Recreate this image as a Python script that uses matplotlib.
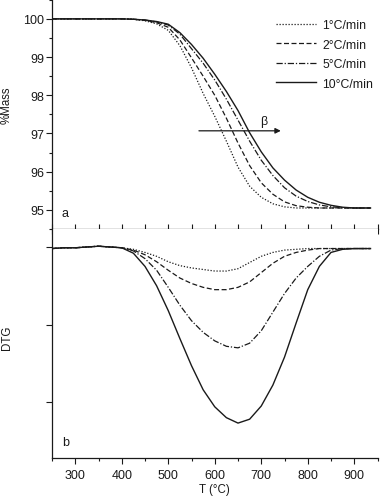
import matplotlib
matplotlib.use("Agg")
import matplotlib.pyplot as plt
from matplotlib.ticker import MultipleLocator, FixedLocator, NullFormatter

plt.rcParams['font.family'] = ['Liberation Sans', 'DejaVu Sans']

# ---- data ----
T = [250, 275, 300, 325, 350, 375, 400, 425, 450, 475, 500, 525, 550, 575,
     600, 625, 650, 675, 700, 725, 750, 775, 800, 825, 850, 875, 900, 925, 935]

mass_1 = [100, 100, 100, 100, 100, 100, 100, 99.99, 99.95, 99.87, 99.7, 99.3,
          98.72, 98.05, 97.45, 96.8, 96.12, 95.62, 95.33, 95.16, 95.08, 95.05,
          95.05, 95.05, 95.05, 95.05, 95.05, 95.05, 95.05]
mass_2 = [100, 100, 100, 100, 100, 100, 100, 99.99, 99.96, 99.9, 99.78, 99.45,
          98.98, 98.5, 98.0, 97.4, 96.75, 96.16, 95.71, 95.41, 95.21, 95.11,
          95.07, 95.05, 95.05, 95.05, 95.05, 95.05, 95.05]
mass_5 = [100, 100, 100, 100, 100, 100, 100, 99.99, 99.97, 99.92, 99.84, 99.6,
          99.22, 98.84, 98.4, 97.9, 97.35, 96.8, 96.3, 95.9, 95.58, 95.36,
          95.22, 95.13, 95.08, 95.06, 95.05, 95.05, 95.05]
mass_10 = [100, 100, 100, 100, 100, 100, 100, 99.99, 99.97, 99.93, 99.86, 99.64,
           99.33, 98.97, 98.55, 98.1, 97.6, 97.02, 96.52, 96.1, 95.78, 95.52,
           95.33, 95.2, 95.12, 95.07, 95.05, 95.05, 95.05]

dtg_1 = [-0.02, -0.01, -0.01, 0.0, 0.01, 0.0, -0.01, -0.03, -0.07, -0.12, -0.19, -0.24,
         -0.27, -0.29, -0.31, -0.31, -0.28, -0.2, -0.12, -0.07, -0.04, -0.03,
         -0.02, -0.02, -0.02, -0.02, -0.02, -0.02, -0.02]
dtg_2 = [-0.02, -0.01, -0.01, 0.0, 0.01, 0.0, -0.01, -0.04, -0.1, -0.19, -0.3, -0.4,
         -0.47, -0.52, -0.55, -0.55, -0.52, -0.45, -0.33, -0.21, -0.12, -0.07,
         -0.04, -0.02, -0.02, -0.02, -0.02, -0.02, -0.02]
dtg_5 = [-0.02, -0.01, -0.01, 0.0, 0.01, 0.0, -0.01, -0.05, -0.15, -0.3, -0.52, -0.75,
         -0.95, -1.1, -1.21, -1.28, -1.3, -1.24, -1.08, -0.84, -0.6, -0.4,
         -0.25, -0.12, -0.04, -0.02, -0.02, -0.02, -0.02]
dtg_10 = [-0.02, -0.01, -0.01, 0.0, 0.01, 0.0, -0.01, -0.08, -0.25, -0.5, -0.82, -1.18,
          -1.53, -1.84, -2.06, -2.2, -2.27, -2.22, -2.05, -1.78, -1.42, -0.98,
          -0.55, -0.25, -0.07, -0.03, -0.02, -0.02, -0.02]

labels = ['1°C/min', '2°C/min', '5°C/min', '10°C/min']
x_ticks = [300, 400, 500, 600, 700, 800, 900]

# ---- styles ----
ink = '#1a1a1a'
styles = [dict(ls=(0, (1, 1.4)), lw=0.9),
          dict(ls=(0, (4, 2)), lw=0.9),
          dict(ls=(0, (5, 1.5, 1, 1.5)), lw=0.9),
          dict(ls='-', lw=1.0)]

fig = plt.figure(figsize=(3.8, 5.02), dpi=100)
L, R = 52 / 380, 377.5 / 380
ax1 = fig.add_axes([L, 1 - 230 / 502, R - L, 230 / 502])
ax2 = fig.add_axes([L, 1 - 459 / 502, R - L, (459 - 230) / 502])

fs_tick = 9.0
fs_lab = 8.3
fs_leg = 8.8
for ys, st, lab in zip([mass_1, mass_2, mass_5, mass_10], styles, labels):
    ax1.plot(T, ys, color=ink, label=lab, **st)
for ys, st in zip([dtg_1, dtg_2, dtg_5, dtg_10], styles):
    ax2.plot(T, ys, color=ink, **st)

for ax in (ax1, ax2):
    ax.set_xlim(250, 950)
    ax.spines['right'].set_visible(False)
    ax.spines['top'].set_visible(False)
    for s in ax.spines.values():
        s.set_color(ink)
        s.set_linewidth(0.9)
    ax.xaxis.set_major_locator(FixedLocator(x_ticks))
    ax.xaxis.set_minor_locator(MultipleLocator(50))

ax1.set_ylim(94.5, 100.52)
ax1.yaxis.set_major_locator(MultipleLocator(1))
ax1.yaxis.set_minor_locator(MultipleLocator(0.5))
ax1.tick_params(axis='y', which='major', direction='out', length=4, width=0.8,
                colors=ink, labelsize=fs_tick, pad=1.5)
ax1.tick_params(axis='y', which='minor', direction='out', length=2.5, width=0.8, colors=ink)
ax1.tick_params(axis='x', which='both', direction='inout', length=7, width=0.8,
                colors=ink, labelbottom=False)
ax1.set_ylabel('%Mass', fontsize=fs_lab, color=ink)
ax1.yaxis.set_label_coords(-0.12, 0.543)

ax2.set_ylim(-2.72, 0.232)
ax2.yaxis.set_major_locator(FixedLocator([0, -1, -2]))
ax2.yaxis.set_major_formatter(NullFormatter())
ax2.tick_params(axis='y', which='major', direction='out', length=4.5, width=0.8, colors=ink)
ax2.tick_params(axis='x', which='major', direction='out', length=4.5, width=0.8,
                colors=ink, labelsize=fs_tick, pad=3.5)
ax2.tick_params(axis='x', which='minor', direction='out', length=2.5, width=0.8, colors=ink)
ax2.set_ylabel('DTG', fontsize=fs_lab, color=ink)
ax2.yaxis.set_label_coords(-0.12, 0.53)
ax2.set_xlabel('T (°C)', fontsize=fs_lab, color=ink, labelpad=1.5)

ax1.text(0.03, 0.055, 'a', transform=ax1.transAxes, fontsize=fs_tick, color=ink)
ax2.text(0.03, 0.055, 'b', transform=ax2.transAxes, fontsize=fs_tick, color=ink)

ax1.annotate('', xy=(742, 97.07), xytext=(566, 97.07),
             arrowprops=dict(arrowstyle='-|>', color=ink, lw=0.9,
                             mutation_scale=8, shrinkA=0, shrinkB=0))
ax1.text(706, 97.33, 'β', fontsize=fs_tick, color=ink, ha='center', va='center')

leg = ax1.legend(loc='upper left', bbox_to_anchor=(0.688, 0.913), frameon=False,
                 fontsize=fs_leg, handlelength=3.28, handletextpad=0.5,
                 labelspacing=0.62, borderpad=0, borderaxespad=0)
for t in leg.get_texts():
    t.set_color(ink)

fig.savefig('out.png', dpi=100)
